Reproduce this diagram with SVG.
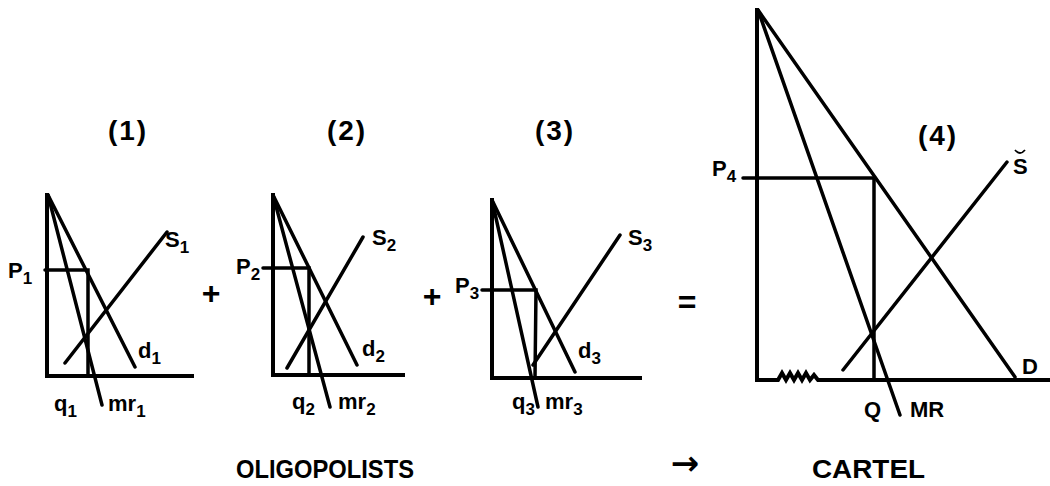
<svg xmlns="http://www.w3.org/2000/svg" width="1050" height="486" viewBox="0 0 1050 486">
<style>
.ax{stroke:#000;stroke-width:4;fill:none;stroke-linecap:square}
.ln{stroke:#000;stroke-width:3.5;fill:none;stroke-linecap:round}
.t{font-family:"Liberation Sans",Arial,sans-serif;font-weight:bold;fill:#000;font-size:22px}
.s{font-size:17px}
.h{font-family:"Liberation Sans",Arial,sans-serif;font-weight:bold;fill:#000;font-size:28px;letter-spacing:2px}
.b{font-family:"Liberation Sans",Arial,sans-serif;font-weight:bold;fill:#000;font-size:26px}
.op{font-family:"Liberation Sans",Arial,sans-serif;font-weight:bold;fill:#000;font-size:32px}
</style>
<rect width="1050" height="486" fill="#fff"/>
<g id="panel1">
<polyline class="ax" points="47,195 47,376 192,376"/>
<line class="ln" x1="48" y1="195" x2="135" y2="367"/>
<line class="ln" x1="48" y1="195" x2="102" y2="405"/>
<line class="ln" x1="65" y1="363" x2="167" y2="232"/>
<polyline class="ln" points="45,270 88,270 88,376"/>
<text class="h" x="128" y="140" text-anchor="middle">(1)</text>
<text class="t" x="8" y="278">P<tspan class="s" dy="6">1</tspan></text>
<text class="t" x="165" y="247">S<tspan class="s" dy="6">1</tspan></text>
<text class="t" x="138" y="358">d<tspan class="s" dy="6">1</tspan></text>
<text class="t" x="54" y="411">q<tspan class="s" dy="6">1</tspan></text>
<text class="t" x="108" y="411">mr<tspan class="s" dy="6">1</tspan></text>
</g>
<g id="panel2">
<polyline class="ax" points="273,195 273,375 403,375"/>
<line class="ln" x1="273" y1="195" x2="357" y2="365"/>
<line class="ln" x1="273" y1="195" x2="330" y2="407"/>
<line class="ln" x1="287" y1="368" x2="363" y2="237"/>
<polyline class="ln" points="263,268 309,268 309,375"/>
<text class="h" x="347" y="140" text-anchor="middle">(2)</text>
<text class="t" x="236" y="274">P<tspan class="s" dy="6">2</tspan></text>
<text class="t" x="372" y="245">S<tspan class="s" dy="6">2</tspan></text>
<text class="t" x="362" y="356">d<tspan class="s" dy="6">2</tspan></text>
<text class="t" x="292" y="409">q<tspan class="s" dy="6">2</tspan></text>
<text class="t" x="338" y="409">mr<tspan class="s" dy="6">2</tspan></text>
</g>
<g id="panel3">
<polyline class="ax" points="492,200 492,378 640,378"/>
<line class="ln" x1="492" y1="200" x2="575" y2="372"/>
<line class="ln" x1="492" y1="200" x2="538" y2="407"/>
<line class="ln" x1="533" y1="365" x2="620" y2="235"/>
<polyline class="ln" points="482,290 536,290 535,378"/>
<text class="h" x="555" y="140" text-anchor="middle">(3)</text>
<text class="t" x="455" y="293">P<tspan class="s" dy="6">3</tspan></text>
<text class="t" x="628" y="245">S<tspan class="s" dy="6">3</tspan></text>
<text class="t" x="578" y="358">d<tspan class="s" dy="6">3</tspan></text>
<text class="t" x="512" y="409">q<tspan class="s" dy="6">3</tspan></text>
<text class="t" x="545" y="409">mr<tspan class="s" dy="6">3</tspan></text>
</g>
<g id="panel4">
<path class="ax" d="M757,10 V380 H778 l4,-7 l4,7 l4,-7 l4,7 l4,-7 l4,7 l4,-7 l4,7 l4,-5 l4,5 H1050"/>
<line class="ln" x1="758" y1="10" x2="1015" y2="377"/>
<line class="ln" x1="758" y1="10" x2="900" y2="415"/>
<line class="ln" x1="843" y1="370" x2="1007" y2="162"/>
<polyline class="ln" points="743,178 874,178 874,380"/>
<text class="h" x="938" y="145" text-anchor="middle">(4)</text>
<text class="t" x="712" y="176">P<tspan class="s" dy="6">4</tspan></text>
<text class="t" x="1013" y="174">S</text>
<path d="M1015,150 q5,6 10,0" stroke="#000" stroke-width="1.8" fill="none"/>
<text class="t" x="1022" y="374">D</text>
<text class="t" x="864" y="417">Q</text>
<text class="t" x="910" y="417">MR</text>
</g>
<g id="operators">
<text class="op" x="211" y="304" text-anchor="middle">+</text>
<text class="op" x="432" y="307" text-anchor="middle">+</text>
<text class="op" x="687" y="313" text-anchor="middle">=</text>
<text class="b" x="236" y="478" textLength="178" lengthAdjust="spacingAndGlyphs">OLIGOPOLISTS</text>
<text x="685" y="475" text-anchor="middle" style="font-family:'DejaVu Sans',sans-serif;font-weight:bold;font-size:34px">→</text>
<text class="b" x="812" y="478" textLength="113" lengthAdjust="spacingAndGlyphs">CARTEL</text>
</g>
</svg>
